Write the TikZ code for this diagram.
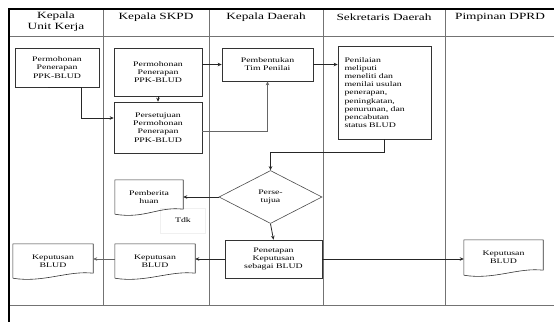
\documentclass[tikz,border=0pt]{standalone}
\usepackage{fontspec}
\setmainfont{Liberation Serif}[FakeStretch=1.4]
\usetikzlibrary{shapes.geometric,arrows.meta}
\newcommand\docoutline[1]{\draw[docline] (#1.south west) -- (#1.north west) -- (#1.north east)
      -- ([yshift=5pt]#1.south east)
      .. controls +(-25,-3) and +(30,5) .. (#1.south west);}
\begin{document}
\begin{tikzpicture}[x=1pt,y=-1pt,
  lane/.style={draw=black!55, line width=0.7pt},
  frame/.style={draw=black, line width=2pt},
  hdr/.style={font=\fontsize{9.5}{11}\selectfont, align=center, inner sep=0pt},
  box/.style={draw=black!80, line width=0.6pt, align=center, font=\fontsize{7}{8.2}\selectfont, inner sep=1pt},
  doc/.style={align=center, font=\fontsize{7}{8.2}\selectfont, inner sep=1pt},
  docline/.style={draw=black!80, line width=0.6pt, line join=round},
  dec/.style={diamond, draw=black!70, line width=0.6pt, align=center, font=\fontsize{7}{8.2}\selectfont, inner sep=0pt},
  arr/.style={-{Stealth[length=4pt,width=3.5pt]}, line width=0.8pt, draw=black!85},
  thinarr/.style={-{Stealth[length=4pt,width=3.5pt]}, line width=0.5pt, draw=black!60},
]
\fill[white] (0,0) rectangle (554,322);
\useasboundingbox (0,0) rectangle (554,322);
% lanes
\foreach \x in {103,209,323,445} \draw[lane] (\x,9) -- (\x,305);
\draw[lane] (9,36) -- (554,36);
\draw[lane] (9,305) -- (554,305);
\draw[frame] (9,9) -- (554,9);
\draw[frame] (9,8) -- (9,322);
% headers
\node[hdr] (h1) at (56,22) {Kepala\\Unit Kerja};
\node[hdr] (h2) at (156,17) {Kepala SKPD};
\node[hdr] (h3) at (266,17) {Kepala Daerah};
\node[hdr] (h4) at (384,17) {Sekretaris Daerah};
\node[hdr] (h5) at (500,17) {Pimpinan DPRD};
% boxes
\node[box, minimum width=84, minimum height=39] (b1) at (57,67.5) {Permohonan\\Penerapan\\PPK-BLUD};
\node[box, minimum width=88, minimum height=48] (b2) at (158,72) {Permohonan\\Penerapan\\PPK-BLUD};
\node[box, minimum width=88, minimum height=51] (b3) at (158,127.5) {Persetujuan\\Permohonan\\Penerapan\\PPK-BLUD};
\node[box, minimum width=91, minimum height=33] (b4) at (267.5,64.5) {Pembentukan\\Tim Penilai};
\node[box, minimum width=93, minimum height=93, align=left, text width=80] (b5) at (384.5,92.5) {Penilaian\\meliputi\\meneliti dan\\menilai usulan\\penerapan,\\peningkatan,\\penurunan, dan\\pencabutan\\status BLUD};
\node[dec, minimum width=103, minimum height=53] (dia) at (270.5,197) {Perse-\\tujua};
\node[draw=black!6, minimum width=45, minimum height=25, font=\fontsize{7}{8.2}\selectfont] (tdk) at (183,220.5) {Tdk};
\node[doc, minimum width=68, minimum height=34] (pb) at (149,197) {Pemberita\\huan};
\node[box, minimum width=97, minimum height=38] (b9) at (273.5,259) {Penetapan\\Keputusan\\sebagai BLUD};
\node[doc, minimum width=80, minimum height=34] (k2) at (155,261) {Keputusan\\BLUD};
\node[doc, minimum width=80, minimum height=34] (k1) at (53,261) {Keputusan\\BLUD};
\node[doc, minimum width=79, minimum height=35] (k5) at (503.5,257.5) {Keputusan\\BLUD};
\docoutline{pb}
\docoutline{k2}
\docoutline{k1}
\docoutline{k5}
\coordinate (m) at (270.5,152);
% connectors
\draw[arr] ([xshift=-9pt]b1.south) -- ++(33,0) |- ([yshift=9.5pt]b3.west);
\draw[arr] (b2.south) -- (b3.north);
\draw[arr] (b2.east |- b4.west) -- (b4.west);
\draw[thinarr, line width=0.7pt] ([yshift=-3.5pt]b3.east) -| (b4.south);
\draw[arr] (b4.east) -- (b5.west |- b4.east);
\draw[arr] (b5.south) |- (m) -- (dia.north);
\draw[arr] (dia.west) -- (pb.east |- dia.west);
\draw[arr] (dia.south) -- (b9.north);
\draw[arr] (b9.west) -- (k2.east |- b9.west);
\draw[thinarr] (k2.west |- b9.west) -- (k1.east |- b9.west);
\draw[arr] (b9.east) -- (k5.west |- b9.east);
\end{tikzpicture}
\end{document}
